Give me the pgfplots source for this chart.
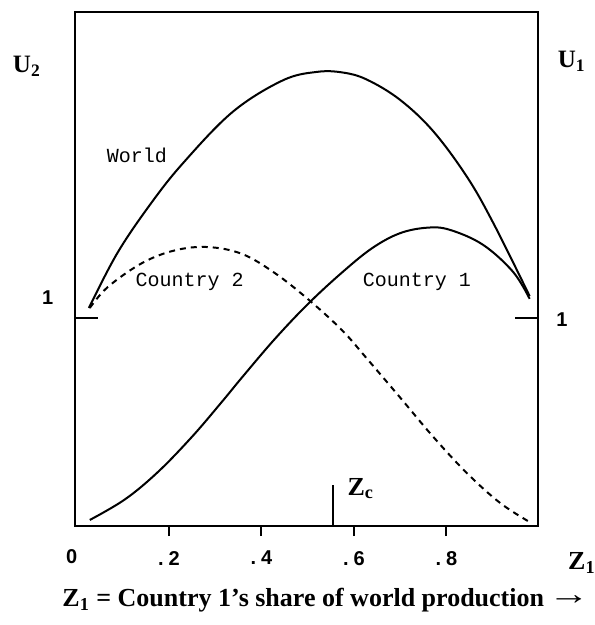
\documentclass[border=0pt]{standalone}
\usepackage{fontspec}
\setmainfont{Liberation Serif}
\setsansfont{Liberation Sans}
\setmonofont{Liberation Mono}
\usepackage{graphicx}
\usepackage{pgfplots}
\pgfplotsset{compat=1.18}

\begin{document}
\begin{tikzpicture}
% page size fixed to the reference proportions (1px = 0.5pt)
\path[use as bounding box] (-37.5pt,-49.5pt) rectangle (259.5pt,263pt);
\begin{axis}[
    at={(0,0)}, anchor=south west,
    scale only axis,
    width=231.5pt, height=257pt,
    xmin=-0.003, xmax=0.998,
    ymin=0, ymax=2.471,
    clip=false,
    axis line style={line width=1pt},
    tick style={line width=1pt, black},
    tick align=outside,
    major tick length=5pt,
    xtick pos=bottom,
    xtick={0.2,0.4,0.6,0.8},
    xticklabels={.\kern2.5pt2,.\kern2.5pt4,.\kern2.5pt6,.\kern2.5pt8},
    xticklabel style={font=\sffamily\bfseries\fontsize{10}{11}\selectfont, yshift=-4pt},
    ytick=\empty,
    extra y ticks={1},
    extra y tick labels={},
    extra y tick style={tick align=inside, major tick length=11.5pt},
]
% World
\addplot[black, line width=1pt, smooth, tension=0.6] coordinates {
    (0.027,1.048) (0.088,1.310) (0.159,1.544) (0.230,1.743) (0.338,1.991)
    (0.446,2.142) (0.520,2.183) (0.576,2.180) (0.628,2.146) (0.699,2.050)
    (0.771,1.899) (0.844,1.680) (0.901,1.458) (0.980,1.105)
};
% Country 2
\addplot[black, line width=1pt, smooth, tension=0.6, dash pattern=on 3pt off 2.5pt] coordinates {
    (0.029,1.048) (0.068,1.149) (0.142,1.264) (0.213,1.325) (0.284,1.341)
    (0.358,1.308) (0.429,1.216) (0.501,1.090) (0.574,0.942) (0.628,0.805)
    (0.699,0.620) (0.771,0.430) (0.844,0.255) (0.916,0.111) (0.980,0.019)
};
% Country 1
\addplot[black, line width=1pt, smooth, tension=0.6] coordinates {
    (0.029,0.029) (0.105,0.128) (0.176,0.259) (0.250,0.429) (0.315,0.598)
    (0.358,0.714) (0.429,0.899) (0.501,1.068) (0.574,1.218) (0.639,1.335)
    (0.699,1.407) (0.758,1.434) (0.807,1.424) (0.879,1.352) (0.944,1.222)
    (0.980,1.092)
};
% Zc marker
\addplot[black, line width=1pt] coordinates {(0.555,0) (0.555,0.197)};

\node[font=\ttfamily\fontsize{10}{12}\selectfont] at (axis cs:0.131,1.784) {World};
\node[font=\ttfamily\fontsize{10}{12}\selectfont] at (axis cs:0.245,1.173) {Country 2};
\node[font=\ttfamily\fontsize{10}{12}\selectfont] at (axis cs:0.736,1.173) {Country 1};

\node[font=\bfseries\fontsize{12.5}{14}\selectfont] at (axis cs:-0.107,2.210) {U\textsubscript{2}};
\node[font=\bfseries\fontsize{12.5}{14}\selectfont] at (axis cs:1.071,2.235) {U\textsubscript{1}};
\node[font=\sffamily\bfseries\fontsize{10}{11}\selectfont] at (axis cs:-0.062,1.096) {1};
\node[font=\sffamily\bfseries\fontsize{10}{11}\selectfont] at (axis cs:1.050,0.990) {1};
\node[font=\sffamily\bfseries\fontsize{10}{11}\selectfont] at (axis cs:-0.010,-0.149) {0};
\node[font=\bfseries\fontsize{13}{15}\selectfont] at (axis cs:0.615,0.180) {Z\textsubscript{c}};
\node[font=\bfseries\fontsize{13}{15}\selectfont] at (axis cs:1.093,-0.178) {Z\textsubscript{1}};
\node[font=\bfseries\fontsize{13}{15}\selectfont, anchor=west, inner sep=0pt] at (axis cs:-0.031,-0.356)
    {Z\textsubscript{1} = Country 1’s share of world production\hspace{2pt}\raisebox{1pt}{\scalebox{1.6}[1.2]{→}}};
\end{axis}
\end{tikzpicture}
\end{document}
